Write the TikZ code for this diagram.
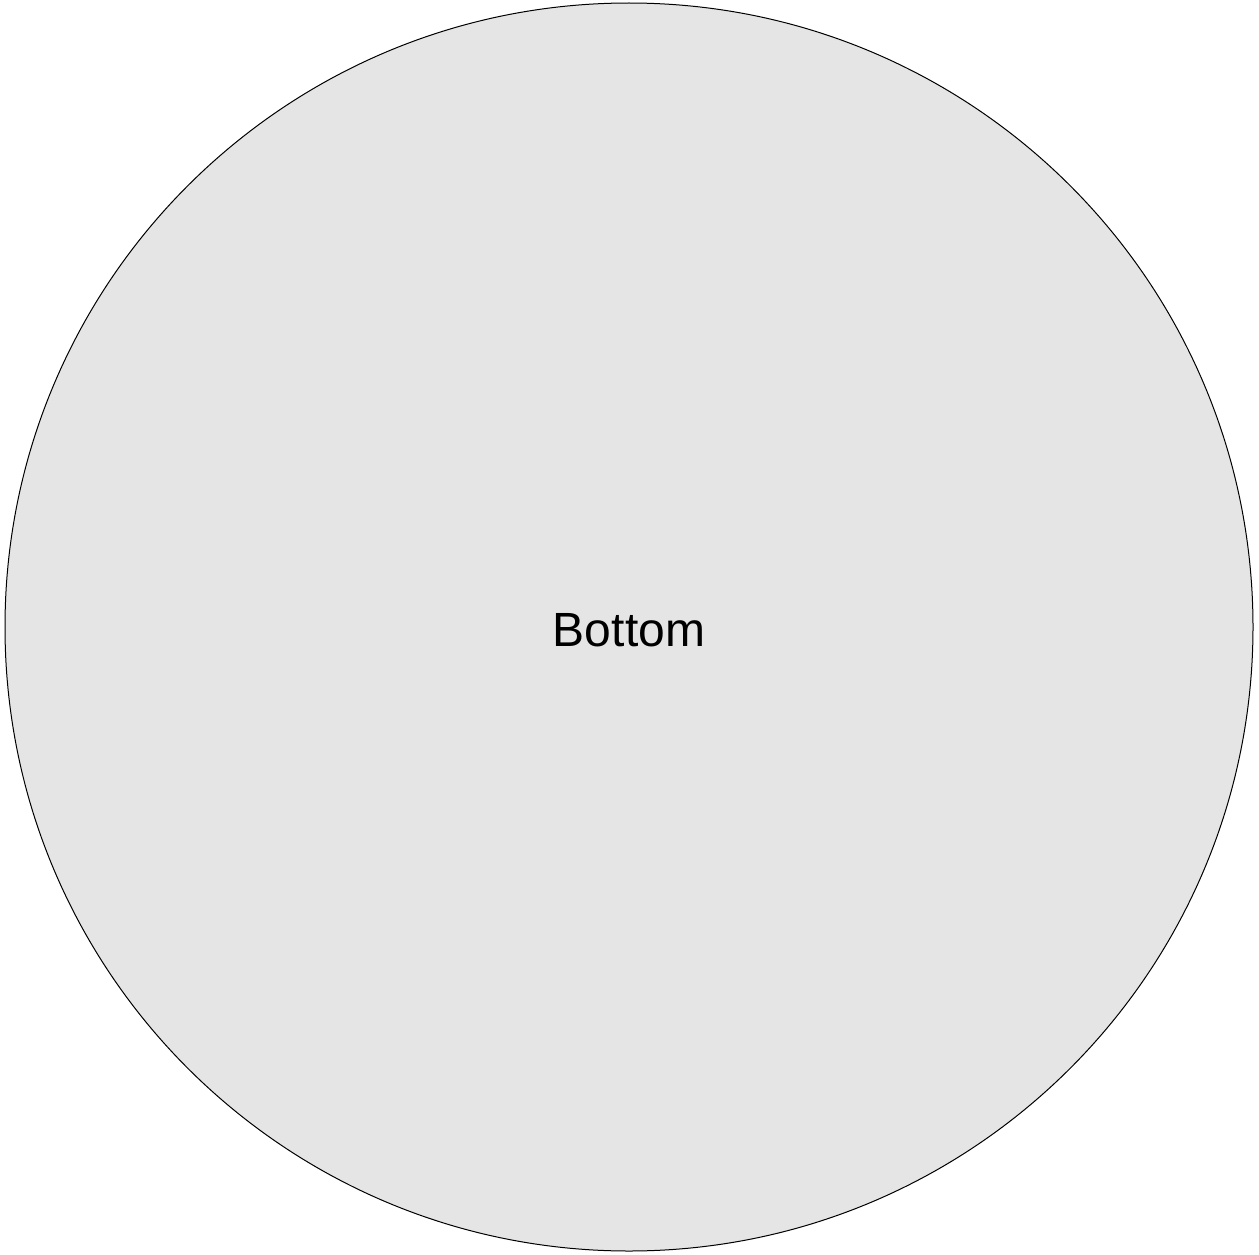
\documentclass[tikz,border=0pt]{standalone}
\usepackage{fontspec}
\setmainfont{Liberation Sans}
\usetikzlibrary{shapes.geometric}
\definecolor{diskfill}{HTML}{E5E5E5}
\tikzset{disk/.style={ellipse, draw=black, line width=1pt, fill=diskfill, minimum width=1248pt, minimum height=1248pt, inner sep=0pt},
  disklabel/.style={font=\fontsize{48}{56}\selectfont, inner sep=0pt}}
\begin{document}
\begin{tikzpicture}[x=1pt,y=-1pt]
\useasboundingbox (0,0) rectangle (1259,1255);
\node[disk] (bottom) at (629,627) {};
\node[disklabel] (bottomlabel) at ([yshift=-3pt]bottom.center) {Bottom};
\end{tikzpicture}
\end{document}
